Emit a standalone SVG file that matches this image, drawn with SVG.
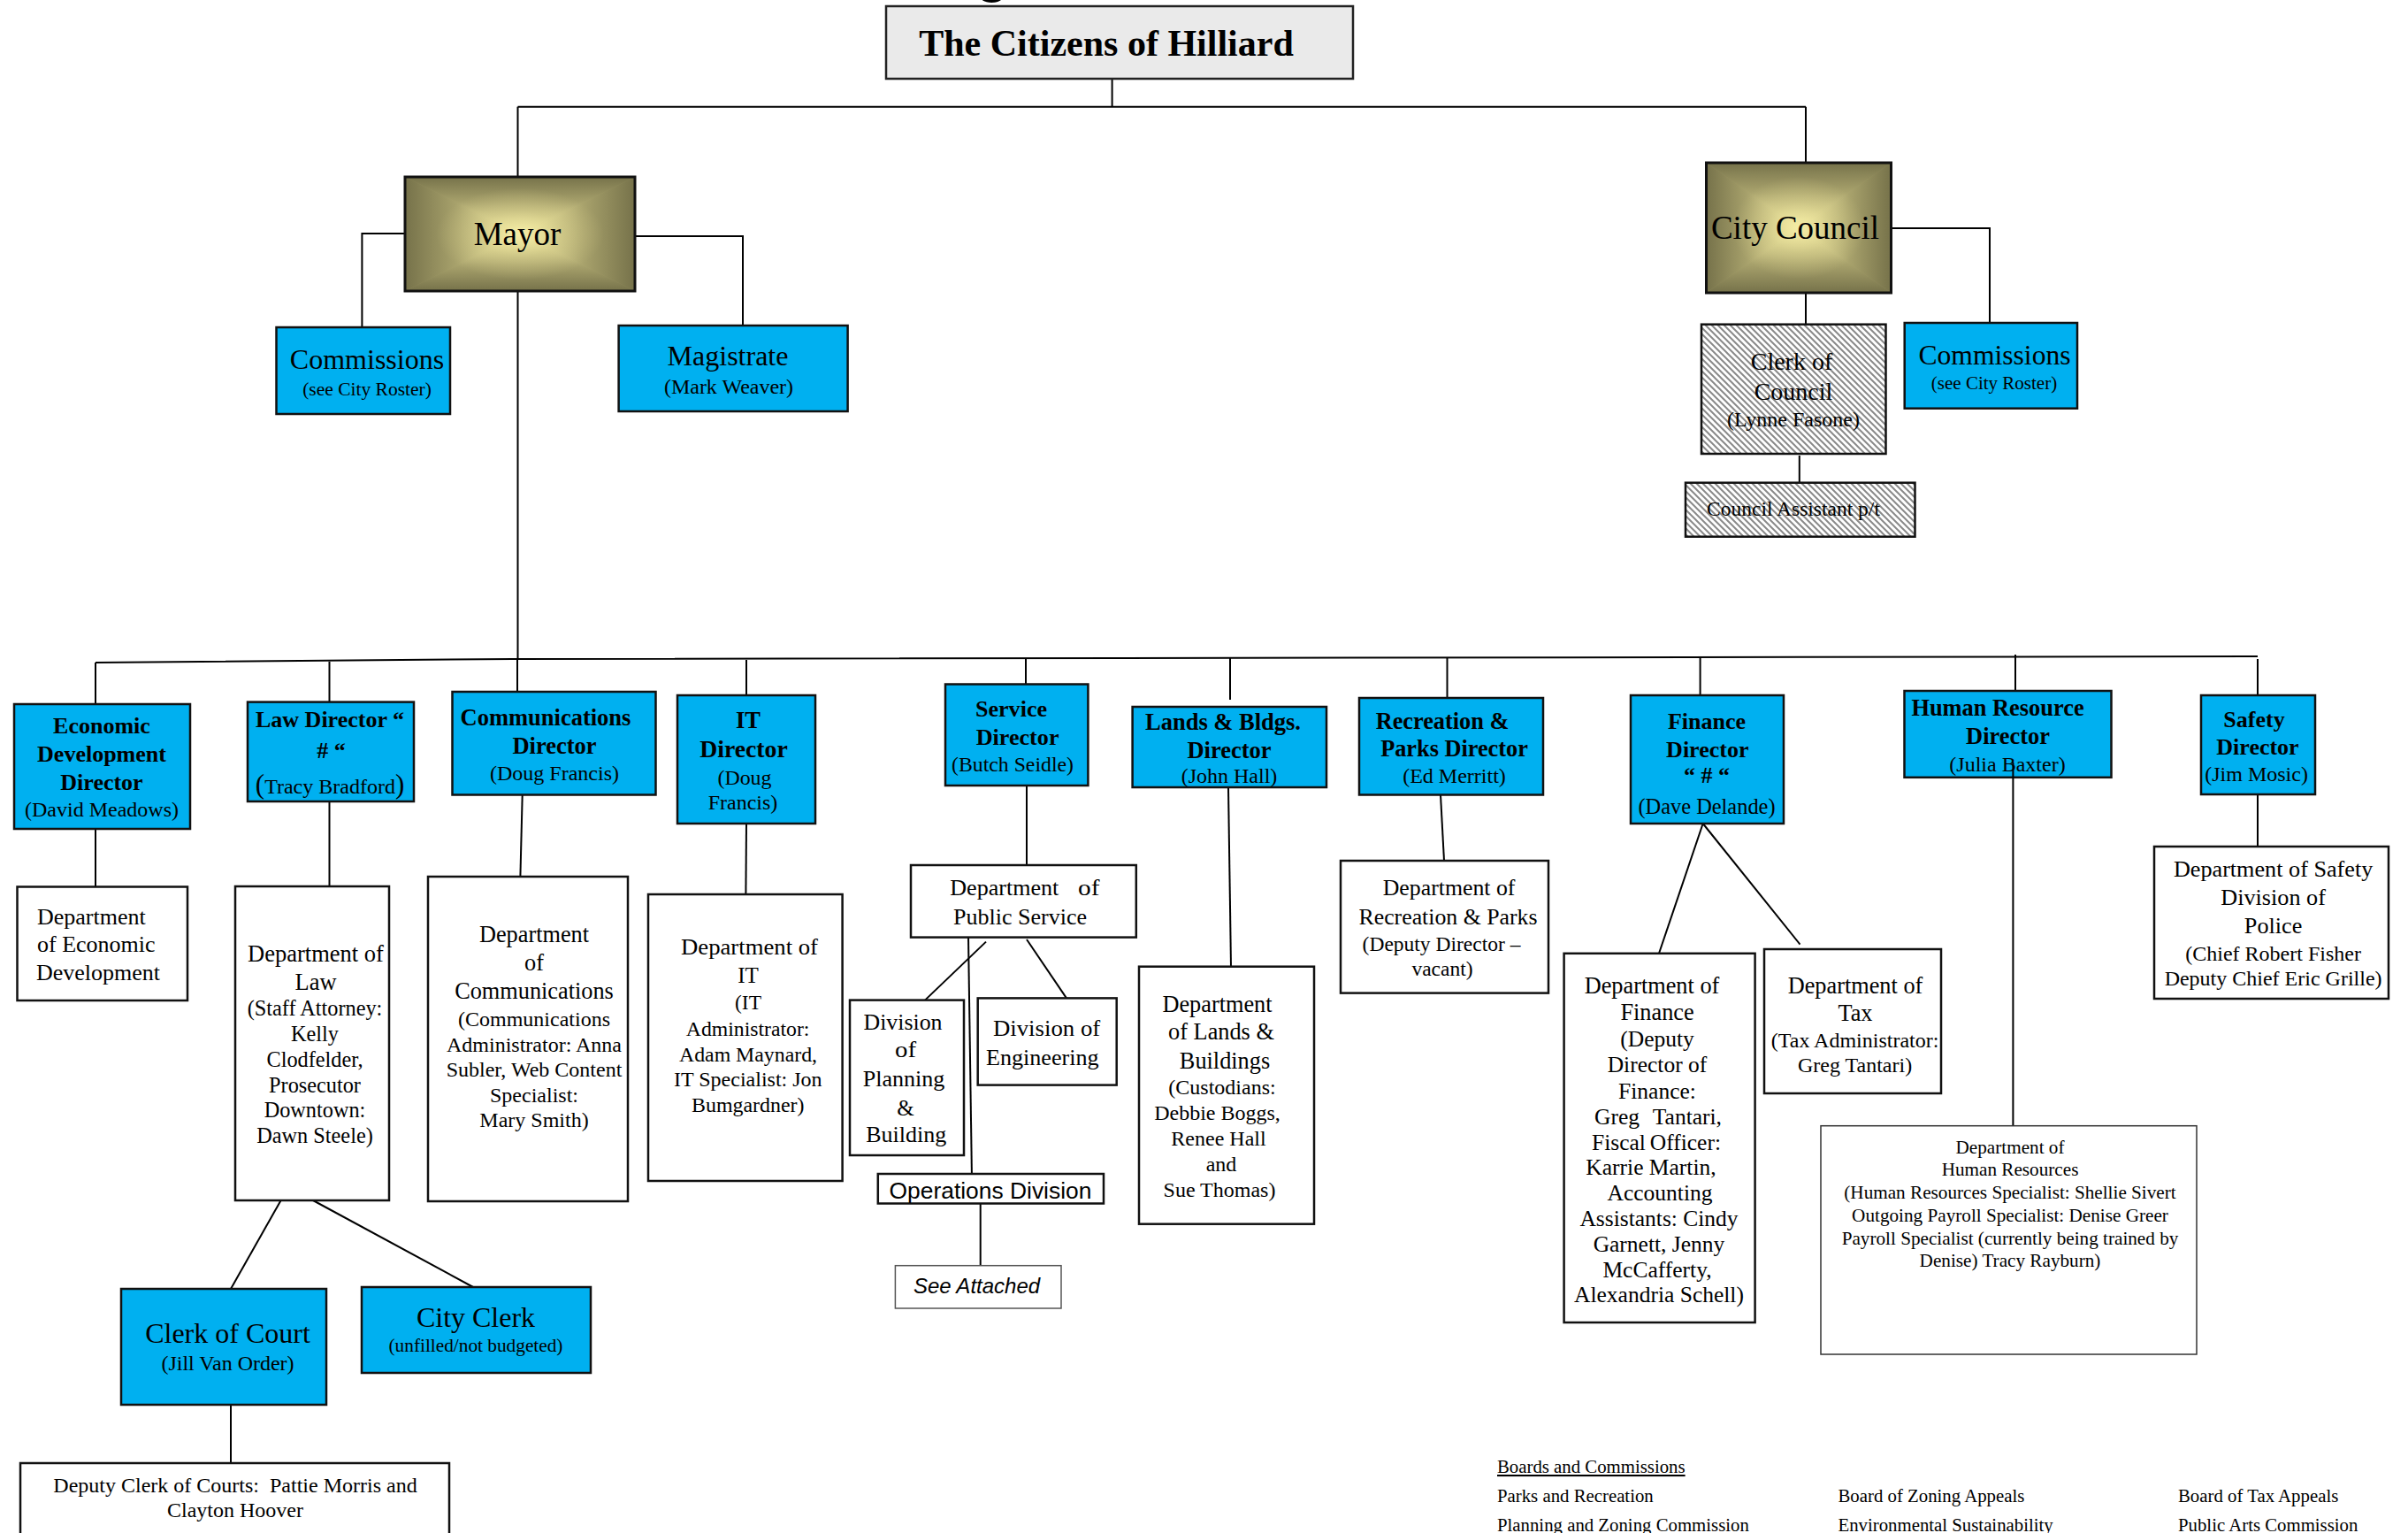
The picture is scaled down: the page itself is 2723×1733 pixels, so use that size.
<svg xmlns="http://www.w3.org/2000/svg" width="2723" height="1733" viewBox="0 0 2723 1733">
<style>
.bg{fill:#fff}
.blue{fill:#00b0f0;stroke:#111;stroke-width:2.5}
.white{fill:#fff;stroke:#111;stroke-width:2.5}
.thin{fill:#fff;stroke:#333;stroke-width:1.5}
.hatch{fill:url(#hatch);stroke:#111;stroke-width:2.5}
.frame{fill:none;stroke:#111;stroke-width:3}
.base{fill:#aaa46e}
.conn path{stroke:#000;stroke-width:2;fill:none}
text{font-family:"Liberation Serif","Times New Roman",serif;fill:#000;text-anchor:middle}
.b{font-weight:bold}
.l{text-anchor:start}
.r{text-anchor:end}
.sans{font-family:"Liberation Sans",Arial,sans-serif}
</style>
<defs>
<linearGradient id="gT" x1="0" y1="0" x2="0" y2="1"><stop offset="0" stop-color="#76724a"/><stop offset="0.45" stop-color="#a8a26c"/><stop offset="1" stop-color="#f3eba2"/></linearGradient>
<linearGradient id="gB" x1="0" y1="0" x2="0" y2="1"><stop offset="0" stop-color="#f3eba2"/><stop offset="0.55" stop-color="#a8a26c"/><stop offset="1" stop-color="#76724a"/></linearGradient>
<linearGradient id="gL" x1="0" y1="0" x2="1" y2="0"><stop offset="0" stop-color="#76724a"/><stop offset="0.45" stop-color="#a8a26c"/><stop offset="1" stop-color="#f3eba2"/></linearGradient>
<linearGradient id="gR" x1="0" y1="0" x2="1" y2="0"><stop offset="0" stop-color="#f3eba2"/><stop offset="0.55" stop-color="#a8a26c"/><stop offset="1" stop-color="#76724a"/></linearGradient>
<radialGradient id="glow" cx="0.5" cy="0.5" r="0.5"><stop offset="0" stop-color="#f5eda6" stop-opacity="0.9"/><stop offset="0.5" stop-color="#e6dd96" stop-opacity="0.35"/><stop offset="1" stop-color="#e6dd96" stop-opacity="0"/></radialGradient>
<pattern id="hatch" width="7" height="7" patternUnits="userSpaceOnUse">
<rect width="7" height="7" fill="#fff"/>
<path d="M-2,-2 L9,9 M-2,5 L2,9 M5,-2 L9,2" stroke="#8a8a8a" stroke-width="2"/>
</pattern>
</defs>
<rect class="bg" x="0" y="0" width="2723" height="1733"/>

<text class="sans l" x="1102" y="-12" font-size="72">g</text>

<g id="connectors" class="conn">
<path d="M1257.6,89 V120.7"/>
<path d="M585.5,120.7 H2042"/>
<path d="M585.5,120.7 V200"/>
<path d="M2042,120.7 V184"/>
<path d="M458,264 H409.4 V370"/>
<path d="M718,267 H840 V368"/>
<path d="M2138.4,258 H2250 V365"/>
<path d="M2042,331 V366.7"/>
<path d="M2034.8,515 V545.7"/>
<path d="M585.5,329 V745"/>
<path d="M108,749 L580,745 L2553,742"/>
<path d="M108,749 V796"/>
<path d="M108,937 V1002.5"/>
<path d="M372.5,748 V794"/>
<path d="M372.5,906 V1002"/>
<path d="M317.6,1357 L261,1457"/>
<path d="M354,1357 L535,1455"/>
<path d="M261,1588 V1654"/>
<path d="M585,745 V782"/>
<path d="M590.7,898.5 L588.4,991"/>
<path d="M844,746 V786"/>
<path d="M844,931 L843.4,1011"/>
<path d="M1160,744 V785"/>
<path d="M1161,888 V978"/>
<path d="M1115,1064.6 L1046,1130.6"/>
<path d="M1161,1062 L1206,1128.4"/>
<path d="M1095,1058 L1099,1334"/>
<path d="M1108.7,1360.5 V1430.7"/>
<path d="M1391,744 V791"/>
<path d="M1389,890 L1392,1092.7"/>
<path d="M1636.5,743 V789"/>
<path d="M1629,898.5 L1633,973"/>
<path d="M1922.6,743 V786"/>
<path d="M1925.7,931 L1876,1077.8"/>
<path d="M1925.7,931 L2035.5,1067.6"/>
<path d="M2279,740 V781"/>
<path d="M2553,745 V786"/>
<path d="M2553,898 V957"/>
</g>

<g id="citizens">
<rect x="1002" y="7" width="528" height="82" fill="#eaeaea" stroke="#222" stroke-width="2.5"/>
<text class="b" x="1251" y="63" font-size="42">The Citizens of Hilliard</text>
</g>

<g id="mayor">
<rect class="base" x="458" y="200" width="260" height="129"/>
<polygon points="458,200 718,200 588,264.5" fill="url(#gT)" stroke="url(#gT)" stroke-width="0.6"/>
<polygon points="458,329 718,329 588,264.5" fill="url(#gB)" stroke="url(#gB)" stroke-width="0.6"/>
<polygon points="458,200 458,329 588,264.5" fill="url(#gL)" stroke="url(#gL)" stroke-width="0.6"/>
<polygon points="718,200 718,329 588,264.5" fill="url(#gR)" stroke="url(#gR)" stroke-width="0.6"/>
<ellipse cx="588" cy="264.5" rx="95" ry="52" fill="url(#glow)"/>
<rect class="frame" x="458" y="200" width="260" height="129"/>
<text x="585" y="277" font-size="37">Mayor</text>
</g>

<g id="city-council">
<rect class="base" x="1929.5" y="184" width="209" height="147"/>
<polygon points="1929.5,184 2138.5,184 2034,257.5" fill="url(#gT)" stroke="url(#gT)" stroke-width="0.6"/>
<polygon points="1929.5,331 2138.5,331 2034,257.5" fill="url(#gB)" stroke="url(#gB)" stroke-width="0.6"/>
<polygon points="1929.5,184 1929.5,331 2034,257.5" fill="url(#gL)" stroke="url(#gL)" stroke-width="0.6"/>
<polygon points="2138.5,184 2138.5,331 2034,257.5" fill="url(#gR)" stroke="url(#gR)" stroke-width="0.6"/>
<ellipse cx="2034" cy="257.5" rx="75" ry="58" fill="url(#glow)"/>
<rect class="frame" x="1929.5" y="184" width="209" height="147"/>
<text x="2030" y="270" font-size="37">City Council</text>
</g>

<g id="commissions-mayor">
<rect class="blue" x="312.5" y="370" width="196.5" height="98"/>
<text x="415" y="417" font-size="32">Commissions</text>
<text x="415" y="446.7" font-size="21.5">(see City Roster)</text>
</g>

<g id="magistrate">
<rect class="blue" x="699.6" y="368" width="259" height="97"/>
<text x="823" y="413" font-size="32">Magistrate</text>
<text x="824" y="445" font-size="24">(Mark Weaver)</text>
</g>

<g id="clerk-of-council">
<rect class="hatch" x="1924" y="366.7" width="208.5" height="146.3"/>
<text x="2026" y="418" font-size="28">Clerk of</text>
<text x="2028" y="451.7" font-size="28">Council</text>
<text x="2028" y="481.7" font-size="24">(Lynne Fasone)</text>
</g>

<g id="council-assistant">
<rect class="hatch" x="1906" y="545.7" width="259.5" height="61"/>
<text x="2028" y="583" font-size="23.5">Council Assistant p/t</text>
</g>

<g id="commissions-council">
<rect class="blue" x="2153.7" y="365" width="195.3" height="96.7"/>
<text x="2255.5" y="411.7" font-size="31.6">Commissions</text>
<text x="2255" y="440" font-size="21">(see City Roster)</text>
</g>

<g id="econ-dev-director">
<rect class="blue" x="16" y="796" width="199" height="141"/>
<text class="b" x="115" y="829" font-size="26">Economic</text>
<text class="b" x="115" y="860.5" font-size="26">Development</text>
<text class="b" x="115" y="893" font-size="26">Director</text>
<text x="115" y="923" font-size="24">(David Meadows)</text>
</g>

<g id="dept-econ-dev">
<rect class="white" x="19.5" y="1002.5" width="192.5" height="128.5"/>
<text class="l" x="42" y="1044.5" font-size="26">Department</text>
<text class="l" x="42" y="1076" font-size="26">of Economic</text>
<text class="l" x="41" y="1108" font-size="26">Development</text>
</g>

<g id="law-director">
<rect class="blue" x="280" y="793.6" width="188" height="112.4"/>
<text class="b" x="373" y="821.7" font-size="26">Law Director “</text>
<text class="b" x="374.6" y="857" font-size="26"># “</text>
<text x="373" y="897" font-size="24"><tspan font-size="31">(</tspan>Tracy Bradford<tspan font-size="31">)</tspan></text>
</g>

<g id="dept-law">
<rect class="white" x="266" y="1002" width="174" height="355"/>
<text x="357" y="1087" font-size="26.5">Department of</text>
<text x="357" y="1118.6" font-size="26.5">Law</text>
<text x="356" y="1147.6" font-size="24.3">(Staff Attorney:</text>
<text x="356" y="1176.6" font-size="24.3">Kelly</text>
<text x="356" y="1205.6" font-size="24.3">Clodfelder,</text>
<text x="356" y="1234.6" font-size="24.3">Prosecutor</text>
<text x="356" y="1263" font-size="24.3">Downtown:</text>
<text x="356" y="1292" font-size="24.3">Dawn Steele)</text>
</g>

<g id="clerk-of-court">
<rect class="blue" x="137" y="1457" width="232" height="131"/>
<text x="257.5" y="1518" font-size="32">Clerk of Court</text>
<text x="257.5" y="1549" font-size="24">(Jill Van Order)</text>
</g>

<g id="city-clerk">
<rect class="blue" x="409" y="1455" width="259" height="97"/>
<text x="538" y="1500" font-size="32">City Clerk</text>
<text x="538" y="1528" font-size="21.3">(unfilled/not budgeted)</text>
</g>

<g id="deputy-clerk">
<rect class="white" x="23" y="1654" width="485" height="84"/>
<text x="266" y="1686.7" font-size="24" xml:space="preserve">Deputy Clerk of Courts:  Pattie Morris and</text>
<text x="266" y="1715" font-size="24">Clayton Hoover</text>
</g>

<g id="comms-director">
<rect class="blue" x="511.5" y="782" width="230" height="116.5"/>
<text class="b" x="617" y="820" font-size="26.5">Communications</text>
<text class="b" x="627" y="851.6" font-size="26.5">Director</text>
<text x="627" y="882" font-size="24">(Doug Francis)</text>
</g>

<g id="dept-comms">
<rect class="white" x="484" y="991" width="226" height="367"/>
<text x="604" y="1065" font-size="26.3">Department</text>
<text x="604" y="1097" font-size="26.3">of</text>
<text x="604" y="1129" font-size="26.3">Communications</text>
<text x="604" y="1159.6" font-size="24">(Communications</text>
<text x="604" y="1188.7" font-size="24">Administrator: Anna</text>
<text x="604" y="1216.8" font-size="24">Subler, Web Content</text>
<text x="604" y="1245.8" font-size="24">Specialist:</text>
<text x="604" y="1274" font-size="24">Mary Smith)</text>
</g>

<g id="it-director">
<rect class="blue" x="766" y="786" width="156" height="145"/>
<text class="b" x="846" y="822.6" font-size="28" textLength="28" lengthAdjust="spacingAndGlyphs">IT</text>
<text class="b" x="841" y="856" font-size="27.5" textLength="99.5" lengthAdjust="spacingAndGlyphs">Director</text>
<text x="842" y="887" font-size="24" textLength="61" lengthAdjust="spacingAndGlyphs">(Doug</text>
<text x="840" y="915.4" font-size="24" textLength="78.5" lengthAdjust="spacingAndGlyphs">Francis)</text>
</g>

<g id="dept-it">
<rect class="white" x="733" y="1011" width="219.6" height="324"/>
<text x="847.5" y="1079" font-size="25" textLength="155" lengthAdjust="spacingAndGlyphs">Department of</text>
<text x="846" y="1110.5" font-size="25" textLength="23.7" lengthAdjust="spacingAndGlyphs">IT</text>
<text x="846" y="1141" font-size="24" textLength="30" lengthAdjust="spacingAndGlyphs">(IT</text>
<text x="845.6" y="1171" font-size="23" textLength="139.7" lengthAdjust="spacingAndGlyphs">Administrator:</text>
<text x="846" y="1200" font-size="23" textLength="156" lengthAdjust="spacingAndGlyphs">Adam Maynard,</text>
<text x="845.8" y="1228" font-size="23" textLength="167.6" lengthAdjust="spacingAndGlyphs">IT Specialist: Jon</text>
<text x="845.8" y="1257" font-size="23" textLength="127.5" lengthAdjust="spacingAndGlyphs">Bumgardner)</text>
</g>

<g id="service-director">
<rect class="blue" x="1069" y="773.5" width="161.4" height="114.5"/>
<text class="b" x="1143.5" y="810" font-size="25" textLength="81" lengthAdjust="spacingAndGlyphs">Service</text>
<text class="b" x="1150.6" y="841.8" font-size="25" textLength="93.8" lengthAdjust="spacingAndGlyphs">Director</text>
<text x="1145" y="871.7" font-size="24" textLength="138" lengthAdjust="spacingAndGlyphs">(Butch Seidle)</text>
</g>

<g id="dept-public-service">
<rect class="white" x="1030" y="978" width="254.8" height="81.6"/>
<text class="l" x="1074.3" y="1012" font-size="25" textLength="123" lengthAdjust="spacingAndGlyphs">Department</text>
<text class="l" x="1219" y="1012" font-size="25" textLength="24.4" lengthAdjust="spacingAndGlyphs">of</text>
<text x="1153.6" y="1045" font-size="25" textLength="151" lengthAdjust="spacingAndGlyphs">Public Service</text>
</g>

<g id="div-planning">
<rect class="white" x="961" y="1130.6" width="129" height="175.4"/>
<text x="1021" y="1164" font-size="25" textLength="89" lengthAdjust="spacingAndGlyphs">Division</text>
<text x="1024" y="1195" font-size="25" textLength="24" lengthAdjust="spacingAndGlyphs">of</text>
<text x="1022" y="1228" font-size="25" textLength="92.6" lengthAdjust="spacingAndGlyphs">Planning</text>
<text x="1024" y="1261" font-size="25">&amp;</text>
<text x="1024.7" y="1291" font-size="25" textLength="91" lengthAdjust="spacingAndGlyphs">Building</text>
</g>

<g id="div-engineering">
<rect class="white" x="1105.7" y="1128.4" width="157" height="98.2"/>
<text x="1183.6" y="1171" font-size="25" textLength="121.3" lengthAdjust="spacingAndGlyphs">Division of</text>
<text x="1178.8" y="1204" font-size="25" textLength="127.5" lengthAdjust="spacingAndGlyphs">Engineering</text>
</g>

<g id="operations-division">
<rect class="white" x="992.8" y="1327" width="255.2" height="33.5" stroke-width="2"/>
<text class="sans" x="1120" y="1355" font-size="26.4">Operations Division</text>
</g>

<g id="see-attached">
<rect x="1012.4" y="1430.7" width="187.6" height="48.3" fill="#fff" stroke="#555" stroke-width="1.5"/>
<text class="sans" x="1104.5" y="1461.7" font-size="24" font-style="italic">See Attached</text>
</g>

<g id="lands-director">
<rect class="blue" x="1280.6" y="799" width="219.4" height="91"/>
<text class="b" x="1383" y="824.8" font-size="26.5">Lands &amp; Bldgs.</text>
<text class="b" x="1390" y="857" font-size="26.5">Director</text>
<text x="1390" y="885" font-size="24">(John Hall)</text>
</g>

<g id="dept-lands">
<rect class="white" x="1288" y="1092.7" width="198" height="291"/>
<text x="1376.5" y="1144" font-size="26.3">Department</text>
<text x="1381" y="1175" font-size="26.3">of Lands &amp;</text>
<text x="1385" y="1208" font-size="26.3">Buildings</text>
<text x="1382" y="1236.9" font-size="24">(Custodians:</text>
<text x="1376.5" y="1265.9" font-size="24">Debbie Boggs,</text>
<text x="1378" y="1294.9" font-size="24">Renee Hall</text>
<text x="1381" y="1323.5" font-size="24">and</text>
<text x="1379" y="1352.5" font-size="24">Sue Thomas)</text>
</g>

<g id="rec-director">
<rect class="blue" x="1537" y="789" width="208" height="109.5"/>
<text class="b" x="1631" y="824" font-size="26.3">Recreation &amp;</text>
<text class="b" x="1644.5" y="855" font-size="26.3">Parks Director</text>
<text x="1644.5" y="885" font-size="24">(Ed Merritt)</text>
</g>

<g id="dept-rec">
<rect class="white" x="1516" y="973" width="235" height="149.6"/>
<text x="1638.6" y="1012" font-size="25.8">Department of</text>
<text x="1637.5" y="1045" font-size="25.8">Recreation &amp; Parks</text>
<text x="1630" y="1075" font-size="23.5">(Deputy Director –</text>
<text x="1631" y="1102.5" font-size="23.5">vacant)</text>
</g>

<g id="finance-director">
<rect class="blue" x="1844" y="786" width="173" height="145"/>
<text class="b" x="1930" y="824" font-size="26">Finance</text>
<text class="b" x="1930.8" y="856" font-size="26">Director</text>
<text class="b" x="1930" y="885.4" font-size="26" xml:space="preserve">“ # “</text>
<text x="1930" y="919.6" font-size="24.4">(Dave Delande)</text>
</g>

<g id="dept-finance">
<rect class="white" x="1768.6" y="1077.8" width="216" height="417.2"/>
<text x="1868" y="1122.7" font-size="26.3">Department of</text>
<text x="1874" y="1153" font-size="26.3">Finance</text>
<text x="1874" y="1183" font-size="25.5">(Deputy</text>
<text x="1874" y="1212" font-size="25.5">Director of</text>
<text x="1874" y="1241.5" font-size="25.5">Finance:</text>
<text class="l" x="1803" y="1270.6" font-size="25.5">Greg</text>
<text class="r" x="1947" y="1270.6" font-size="25.5">Tantari,</text>
<text class="l" x="1800" y="1299.7" font-size="25.5">Fiscal</text>
<text class="r" x="1946" y="1299.7" font-size="25.5">Officer:</text>
<text x="1867" y="1328" font-size="25.5">Karrie Martin,</text>
<text x="1877" y="1357" font-size="25.5">Accounting</text>
<text x="1876" y="1386" font-size="25.5">Assistants: Cindy</text>
<text x="1876" y="1415" font-size="25.5">Garnett, Jenny</text>
<text x="1874" y="1444" font-size="25.5">McCafferty,</text>
<text x="1876" y="1472" font-size="25.5">Alexandria Schell)</text>
</g>

<g id="dept-tax">
<rect class="white" x="1995" y="1073" width="200" height="163"/>
<text x="2098" y="1122.7" font-size="26.3">Department of</text>
<text x="2098" y="1154" font-size="26.3">Tax</text>
<text x="2097.6" y="1184" font-size="24">(Tax Administrator:</text>
<text x="2097.6" y="1212" font-size="24">Greg Tantari)</text>
</g>

<g id="hr-director">
<rect class="blue" x="2153.5" y="781" width="234" height="97.8"/>
<text class="b" x="2259" y="809" font-size="26.4">Human Resource</text>
<text class="b" x="2270.5" y="841" font-size="26.4">Director</text>
<text x="2270" y="871.6" font-size="24">(Julia Baxter)</text>
<path d="M2276.4,862 V1272.7" stroke="#000" stroke-width="2" fill="none"/>
</g>

<g id="dept-hr">
<rect class="thin" x="2059" y="1272.7" width="425" height="258.3"/>
<text x="2273" y="1304" font-size="21.2">Department of</text>
<text x="2273" y="1329" font-size="21.2">Human Resources</text>
<text x="2273" y="1355" font-size="21.2">(Human Resources Specialist: Shellie Sivert</text>
<text x="2273" y="1381" font-size="21.2">Outgoing Payroll Specialist: Denise Greer</text>
<text x="2273" y="1406.7" font-size="21.2">Payroll Specialist (currently being trained by</text>
<text x="2273" y="1431.7" font-size="21.2">Denise) Tracy Rayburn)</text>
</g>

<g id="safety-director">
<rect class="blue" x="2489" y="786" width="129" height="112"/>
<text class="b" x="2549" y="821.6" font-size="26">Safety</text>
<text class="b" x="2553" y="853" font-size="26">Director</text>
<text x="2551.6" y="883" font-size="24">(Jim Mosic)</text>
</g>

<g id="dept-safety">
<rect class="white" x="2436" y="957" width="265" height="172"/>
<text x="2570.6" y="991" font-size="26.2">Department of Safety</text>
<text x="2570.6" y="1023" font-size="26.2">Division of</text>
<text x="2570.6" y="1055" font-size="26.2">Police</text>
<text x="2570.6" y="1086" font-size="24">(Chief Robert Fisher</text>
<text x="2570.6" y="1114" font-size="24">Deputy Chief Eric Grille)</text>
</g>

<g id="boards-legend">
<text class="l" x="1693" y="1665" font-size="20.8" text-decoration="underline">Boards and Commissions</text>
<text class="l" x="1693" y="1698" font-size="20.8">Parks and Recreation</text>
<text class="l" x="2078.5" y="1698" font-size="20.8">Board of Zoning Appeals</text>
<text class="l" x="2463" y="1698" font-size="20.8">Board of Tax Appeals</text>
<text class="l" x="1693" y="1731" font-size="20.8">Planning and Zoning Commission</text>
<text class="l" x="2078.5" y="1731" font-size="20.8">Environmental Sustainability</text>
<text class="l" x="2463" y="1731" font-size="20.8">Public Arts Commission</text>
</g>
</svg>
